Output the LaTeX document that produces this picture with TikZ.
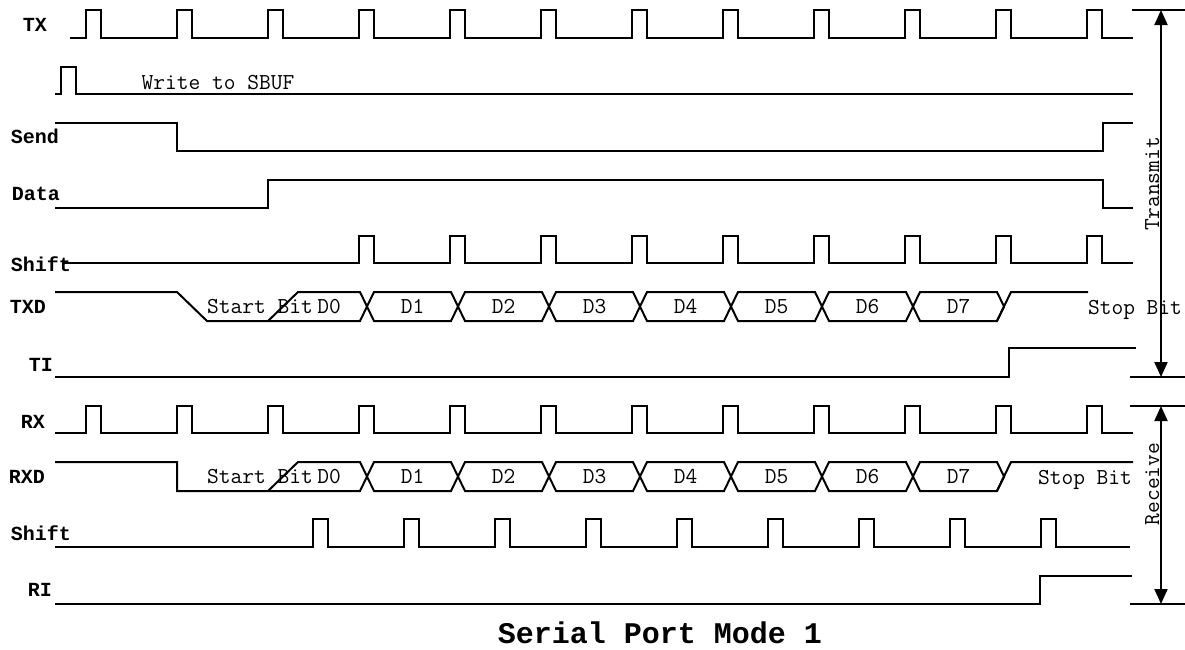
\documentclass[tikz,border=0pt]{standalone}
\usepackage{fontspec}
\usepackage{tikz}
\usetikzlibrary{arrows.meta}
\newfontfamily\courfont{Liberation Mono}
\tikzset{
  wave/.style={draw=black, line width=1pt, line join=miter},
  sig/.style={font=\courfont\bfseries\fontsize{10}{12}\selectfont, inner sep=0pt, text height=6pt, text depth=0pt},
  note/.style={font=\ttfamily\fontsize{11.4}{13}\selectfont, inner sep=0pt, text height=7pt, text depth=0pt},
  ttl/.style={font=\courfont\bfseries\fontsize{15}{18}\selectfont},
  edgeln/.style={draw=black, line width=1pt},
  bracearr/.style={edgeln, {Triangle[length=7.5pt,width=6.5pt]}-{Triangle[length=7.5pt,width=6.5pt]}}
}

\begin{document}
\begin{tikzpicture}[x=0.5pt,y=-0.5pt]
  \useasboundingbox[fill=white] (0,0) rectangle (1185,649);

  \node[sig] (tx) at (35,25) {TX};
  \node[sig] (send) at (35,137) {Send};
  \node[sig] (data) at (36,194) {Data};
  \node[sig] (shtx) at (41,265) {Shift};
  \node[sig] (txd) at (28,307) {TXD};
  \node[sig] (ti) at (41,365) {TI};
  \node[sig] (rx) at (33,422) {RX};
  \node[sig] (rxd) at (27,477) {RXD};
  \node[sig] (shrx) at (41,534) {Shift};
  \node[sig] (ri) at (40,590) {RI};

  \draw[wave] (70,38) foreach \x in {86,177,...,1087} { -- (\x,38) -- (\x,10) -- (\x+15,10) -- (\x+15,38) } -- (1133,38);
  \draw[wave] (55,94) -- (61,94) -- (61,67) -- (76,67) -- (76,94) -- (1133,94);
  \node[note] (wr) at (218,82) {Write to SBUF};
  \draw[wave] (55,123) -- (177,123) -- (177,151) -- (1103,151) -- (1103,123) -- (1133,123);
  \draw[wave] (55,208) -- (268,208) -- (268,180) -- (1103,180) -- (1103,208) -- (1133,208);
  \draw[wave] (62,263) foreach \x in {359,450,...,1087} { -- (\x,263) -- (\x,236) -- (\x+15,236) -- (\x+15,263) } -- (1133,263);

  \draw[wave] (55,292) -- (177,292) -- (207,321) -- (360,321) -- (367,306.5);
  \draw[wave] (55,462) -- (177,462) -- (177,491) -- (360,491) -- (367,476.5);
  \foreach \t in {292,462} {
    \draw[wave] (268,\t+29) -- (298,\t) -- (360,\t) -- (367,\t+14.5);
    \node[note] at (260,\t+14.5) {Start Bit};
    \node[note] at (329,\t+14.5) {D0};
    \foreach \c [count=\i] in {367,458,549,640,731,822,913} {
      \draw[wave] (\c,\t+14.5) -- (\c+7,\t) -- (\c+84,\t) -- (\c+91,\t+14.5) -- (\c+84,\t+29) -- (\c+7,\t+29) -- cycle;
      \node[note] at (\c+45.5,\t+14.5) {D\i};
    }
  }
  \draw[wave] (997,321) -- (1011,292) -- (1088,292);
  \node[note] (stoptx) at (1135,307) {Stop Bit};
  \draw[wave] (997,491) -- (1011,462) -- (1133,462);
  \node[note] (stoprx) at (1085,477) {Stop Bit};

  \draw[wave] (55,377) -- (1009,377) -- (1009,348) -- (1136,348);

  \draw[wave] (55,433) foreach \x in {86,177,...,1087} { -- (\x,433) -- (\x,406) -- (\x+15,406) -- (\x+15,433) } -- (1133,433);
  \draw[wave] (55,547) foreach \x in {313,404,...,1041} { -- (\x,547) -- (\x,519) -- (\x+15,519) -- (\x+15,547) } -- (1130,547);
  \draw[wave] (55,604) -- (1040,604) -- (1040,576) -- (1132,576);

  \coordinate (ttop) at (1161,10);
  \coordinate (tbot) at (1161,377);
  \coordinate (rtop) at (1161,406);
  \coordinate (rbot) at (1161,604);
  \draw[edgeln] (1132,10) -- (1185,10);
  \draw[edgeln] (1130,377) -- (1185,377);
  \draw[edgeln] (1130,406) -- (1185,406);
  \draw[edgeln] (1130,604) -- (1185,604);
  \draw[bracearr] (ttop) -- (tbot);
  \draw[bracearr] (rtop) -- (rbot);
  \node[note, rotate=90] (trans) at (1152,184) {Transmit};
  \node[note, rotate=90] (recv) at (1152,484) {Receive};

  \node[ttl] (title) at (660,633) {Serial Port Mode 1};
\end{tikzpicture}
\end{document}
